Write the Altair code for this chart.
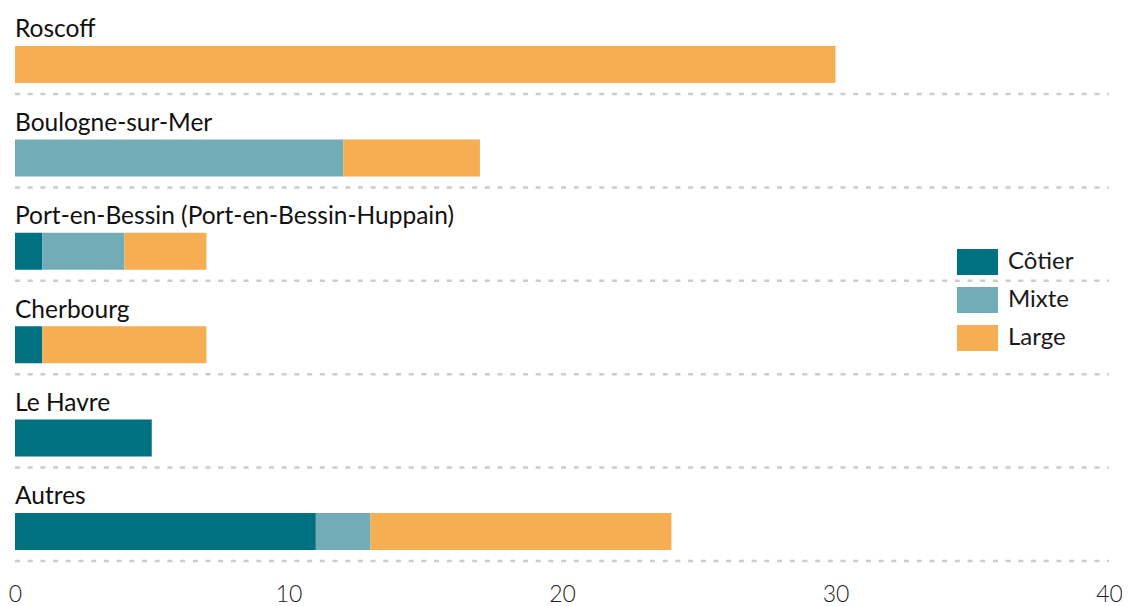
import altair as alt
import pandas as pd

categories = ["Roscoff", "Boulogne-sur-Mer", "Port-en-Bessin (Port-en-Bessin-Huppain)",
              "Cherbourg", "Le Havre", "Autres"]
series = ["Côtier", "Mixte", "Large"]
cotier = [0, 0, 1, 1, 5, 11]
mixte = [0, 12, 3, 0, 0, 2]
large = [30, 5, 3, 6, 0, 11]
colors = ["#007180", "#72adb7", "#f5ae52"]
x_ticks = [0, 10, 20, 30, 40]

rows = []
for i, c in enumerate(categories):
    for k, (s, vals) in enumerate(zip(series, [cotier, mixte, large])):
        if vals[i] > 0:
            rows.append({"port": c, "type": s, "value": vals[i], "order": k})
df = pd.DataFrame(rows)
cat_df = pd.DataFrame({"port": categories})

FONT = "Lato"
W = 1094
H = 553

yscale = alt.Scale(domain=categories, range=[-7.4, H], paddingInner=0, paddingOuter=0)

bars = alt.Chart(df).mark_bar(height=37, yOffset=17.2).encode(
    x=alt.X("sum(value):Q", scale=alt.Scale(domain=[0, 40], nice=False),
            axis=alt.Axis(values=x_ticks, title=None, domain=False, ticks=False, grid=False,
                          labelFont=FONT, labelFontSize=23, labelFontWeight=300,
                          labelColor="#222222", labelPadding=22, labelFlush=False)),
    y=alt.Y("port:N", scale=yscale, axis=None),
    color=alt.Color("type:N", scale=alt.Scale(domain=series, range=colors),
                    legend=alt.Legend(title=None, orient="none", legendX=942, legendY=236,
                                      symbolType="M-1,-0.634L1,-0.634L1,0.634L-1,0.634Z",
                                      symbolSize=1681, symbolStrokeWidth=0, symbolOpacity=1,
                                      clipHeight=36, rowPadding=2,
                                      labelFont=FONT, labelFontSize=24, labelFontWeight=400,
                                      labelColor="#1a1a1a", labelOffset=10, padding=0)),
    order=alt.Order("order:Q", sort="ascending"),
)

labels = alt.Chart(cat_df).mark_text(align="left", baseline="alphabetic", dy=36.7,
                                     font=FONT, fontSize=24.5, fontWeight=400,
                                     color="#111111").encode(
    x=alt.value(0),
    y=alt.Y("port:N", scale=yscale, bandPosition=0, axis=None),
    text="port:N",
)

rules = alt.Chart(cat_df).mark_rule(strokeDash=[5, 7.7], strokeWidth=2.5,
                                    color="#cccccc").encode(
    x=alt.value(0),
    x2=alt.value(W),
    y=alt.Y("port:N", scale=yscale, bandPosition=1, axis=None),
)

chart = alt.layer(rules, bars, labels).properties(
    width=W, height=H,
    padding={"left": 7, "top": 0, "right": 13, "bottom": 45},
    autosize=alt.AutoSizeParams(type="none"),
).configure_view(stroke=None)

chart.save("out.html", embed_options={"renderer": "svg", "actions": False})
